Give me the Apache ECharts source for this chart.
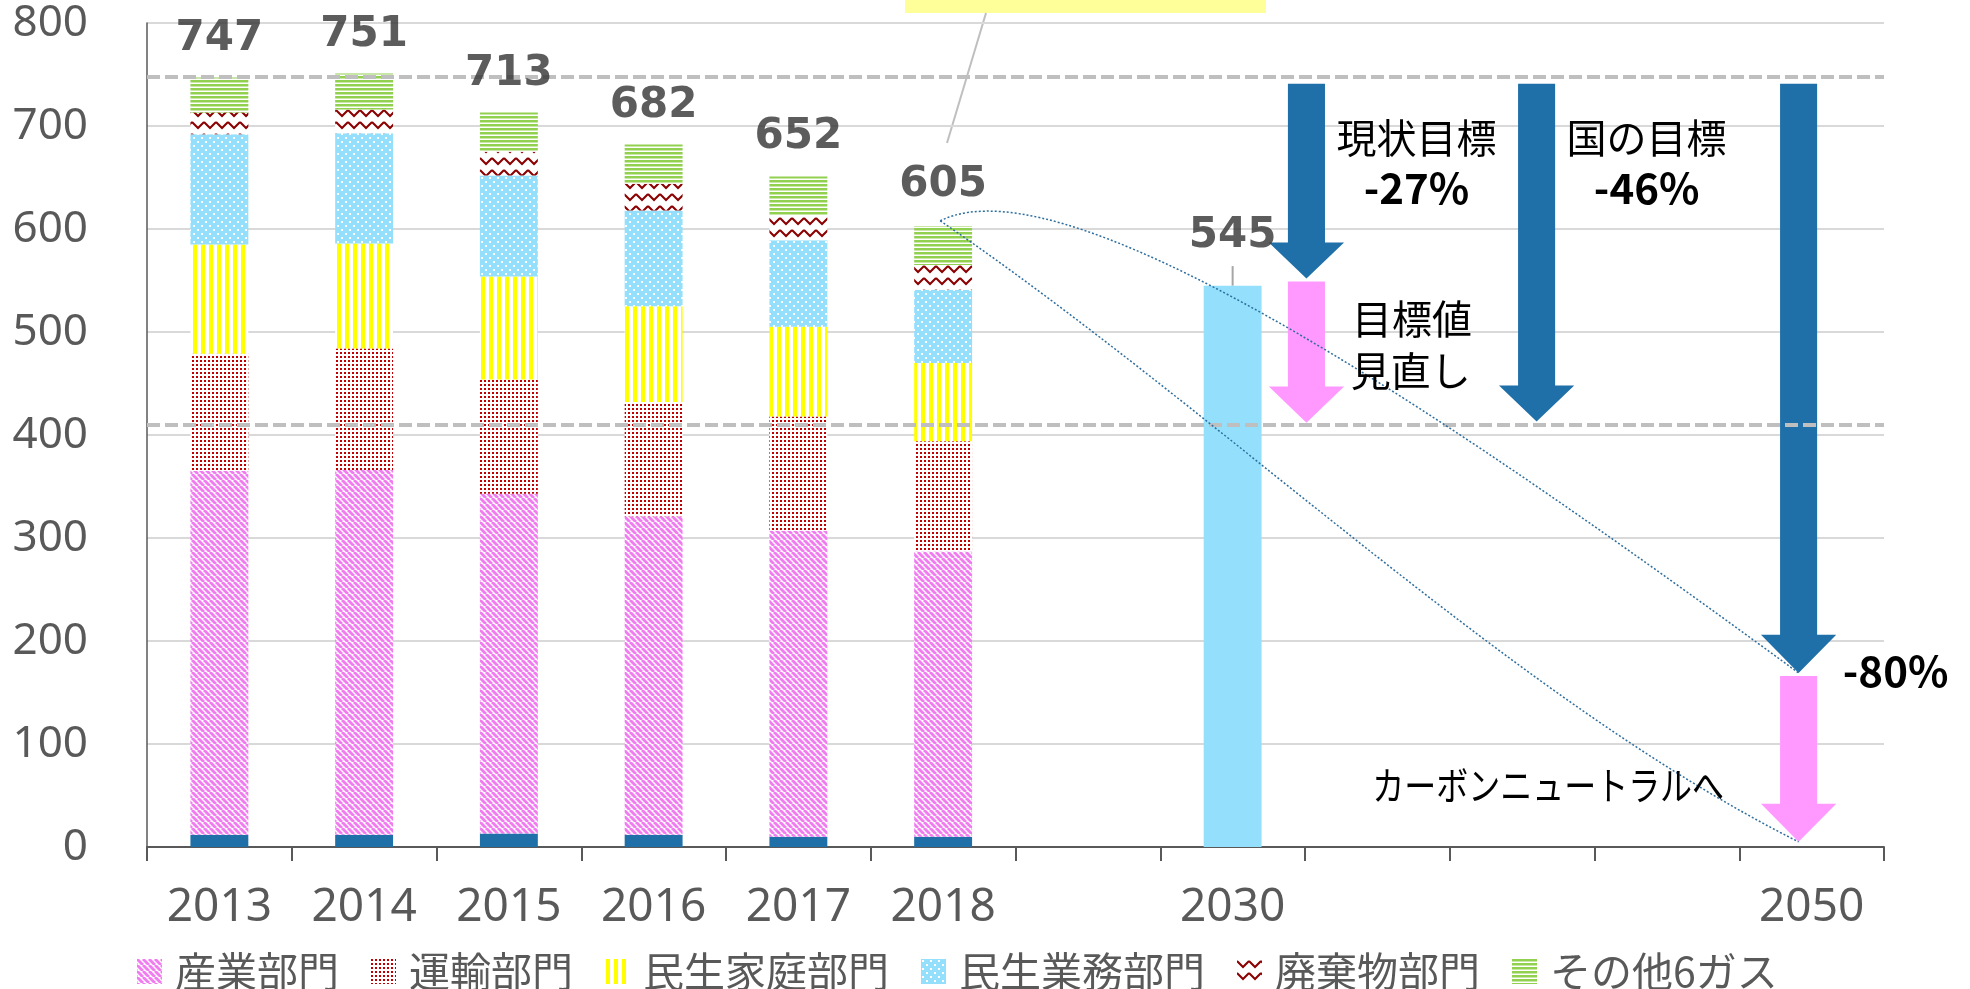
<!DOCTYPE html>
<html>
<head>
<meta charset="utf-8">
<title>温室効果ガス排出量の推移</title>
<script src="https://cdn.jsdelivr.net/npm/echarts@6/dist/echarts.min.js"></script>
<style>
  html, body { margin: 0; padding: 0; background: #fff; }
  #chart { width: 1970px; height: 989px; }
</style>
</head>
<body>
<div id="chart"></div>
<script>
// categories (blank slots keep the time spacing between 2018, 2030 and 2050)
const years = ['2013', '2014', '2015', '2016', '2017', '2018', ' ', '2030', '  ', '   ', '    ', '2050'];

// stacked sectors, 2013-2018, bottom to top
const energy    = [12, 12, 13, 12, 10, 10];
const industry  = [353, 354, 330, 309, 297, 277];
const transport = [114, 118, 111, 111, 111, 107];
const household = [106, 102, 100, 93, 87, 76];
const business  = [107, 107, 98, 93, 84, 71];
const waste     = [21, 23, 23, 26, 24, 24];
const otherGas  = [34, 35, 38, 38, 38, 38];

// 2030 target bar and the printed totals
const target2030 = [null, null, null, null, null, null, null, 545];
const totals = [747, 751, 713, 682, 652, 605, null, 545];

// reference levels (dashed)
const refLevels = [748, 410];

// arrows: x position in category units, start value, head start, tip value
const arrowX    = [7.51, 7.51, 9.10, 10.91, 10.91];
const arrowFrom = [741, 549, 741, 741, 166];
const arrowHead = [587, 447, 448, 206, 42];
const arrowTip  = [552, 412, 413, 169, 5];

// dotted trend curves (cubic bezier, data units)
const curveFrom = [[4.98, 608], [4.98, 608]];
const curveCp1  = [[5.9, 672], [6.95, 419]];
const curveCp2  = [[8.71, 395], [8.93, 145]];
const curveTo   = [[10.91, 169], [10.91, 5]];

// leader from the 2030 label to its bar
const leaderX = [7];
const leaderFrom = [545];
const leaderTo = [564];

// notes
const noteText = ['現状目標', '-27%', '国の目標', '-46%', '目標値', '見直し', '-80%', 'カーボンニュートラルへ'];
const noteX    = [8.27, 8.27, 9.86, 9.86, 8.24, 8.23, 11.58, 9.18];
const noteV    = [689, 640, 689, 640, 513, 462, 171, 60];

const n = years.length;
const pad = arr => years.map((_, i) => (arr[i] == null ? '-' : arr[i]));

function pattern(w, h, draw) {
  const c = document.createElement('canvas');
  c.width = w;
  c.height = h;
  const ctx = c.getContext('2d');
  draw(ctx, w, h);
  return { image: c, repeat: 'repeat' };
}

const fills = {
  industry: pattern(6, 6, (ctx, w, h) => {
    ctx.fillStyle = '#fff';
    ctx.fillRect(0, 0, w, h);
    ctx.strokeStyle = '#F07CF0';
    ctx.lineWidth = 3;
    for (let x = -w; x <= w; x += w) {
      ctx.beginPath();
      ctx.moveTo(x, 0);
      ctx.lineTo(x + w, h);
      ctx.stroke();
    }
  }),
  transport: pattern(4, 4, (ctx, w, h) => {
    ctx.fillStyle = '#fff';
    ctx.fillRect(0, 0, w, h);
    ctx.fillStyle = '#C00000';
    ctx.fillRect(0, 0, 2, 2);
  }),
  household: pattern(8, 8, (ctx, w, h) => {
    ctx.fillStyle = '#fff';
    ctx.fillRect(0, 0, w, h);
    ctx.fillStyle = '#FFFF00';
    ctx.fillRect(1, 0, 4, h);
  }),
  business: pattern(8, 8, (ctx, w, h) => {
    ctx.fillStyle = '#94E0FC';
    ctx.fillRect(0, 0, w, h);
    ctx.fillStyle = '#fff';
    ctx.fillRect(1, 1, 2, 2);
    ctx.fillRect(5, 5, 2, 2);
  }),
  waste: pattern(12, 12, (ctx, w, h) => {
    ctx.fillStyle = '#fff';
    ctx.fillRect(0, 0, w, h);
    ctx.strokeStyle = '#8B0000';
    ctx.lineWidth = 2;
    ctx.beginPath();
    ctx.moveTo(0, 2);
    ctx.lineTo(6, 8);
    ctx.lineTo(12, 2);
    ctx.stroke();
  }),
  otherGas: pattern(4, 4, (ctx, w, h) => {
    ctx.fillStyle = '#fff';
    ctx.fillRect(0, 0, w, h);
    ctx.fillStyle = '#92D050';
    ctx.fillRect(0, 0, w, 2);
    ctx.fillStyle = '#C9E7A7';
    ctx.fillRect(0, 2, w, 1);
  })
};

const sectors = [
  { name: 'エネルギー転換部門', data: energy, color: '#1F6FA8' },
  { name: '産業部門', data: industry, color: fills.industry },
  { name: '運輸部門', data: transport, color: fills.transport },
  { name: '民生家庭部門', data: household, color: fills.household },
  { name: '民生業務部門', data: business, color: fills.business },
  { name: '廃棄物部門', data: waste, color: fills.waste },
  { name: 'その他6ガス', data: otherGas, color: fills.otherGas },
  { name: '2030年目標', data: target2030, color: '#94E0FC' }
];

const barSeries = sectors.map(s => ({
  name: s.name,
  type: 'bar',
  stack: 'total',
  barWidth: '40%',
  data: pad(s.data),
  itemStyle: { color: s.color },
  emphasis: { disabled: true }
}));

const shaftHalf = 0.128;
const headHalf = 0.26;
const arrowColor = ['#1F6FA8', '#FF99FF', '#1F6FA8', '#1F6FA8', '#FF99FF'];

const myChart = echarts.init(document.getElementById('chart'));
myChart.setOption({
  animation: false,
  backgroundColor: '#fff',
  grid: {
    left: 147,
    right: 86,
    top: 23,
    bottom: 142,
    containLabel: false,
    outerBoundsMode: 'none'
  },
  legend: {
    data: ['産業部門', '運輸部門', '民生家庭部門', '民生業務部門', '廃棄物部門', 'その他6ガス'],
    left: 132,
    top: 946,
    icon: 'rect',
    itemWidth: 25,
    itemHeight: 25,
    itemGap: 32,
    selectedMode: false,
    textStyle: {
      fontSize: 41,
      color: '#595959',
      fontFamily: 'Noto Sans CJK JP',
      padding: [0, 0, 0, 8]
    }
  },
  xAxis: [
    {
      type: 'category',
      data: years,
      boundaryGap: true,
      axisLine: { onZero: false, lineStyle: { color: '#595959', width: 2 } },
      axisTick: { show: true, interval: 0, length: 14, lineStyle: { color: '#595959', width: 2 } },
      axisLabel: {
        interval: 0,
        margin: 38,
        fontSize: 46,
        color: '#595959',
        fontFamily: 'Noto Sans'
      },
      splitLine: { show: false }
    },
    {
      // same band as the category axis, for annotations placed between categories
      type: 'value',
      min: -0.5,
      max: n - 0.5,
      show: false
    }
  ],
  yAxis: {
    type: 'value',
    min: 0,
    max: 800,
    interval: 100,
    axisLine: { show: true, onZero: false, lineStyle: { color: '#595959', width: 1.5 } },
    axisTick: { show: false },
    axisLabel: {
      margin: 59,
      fontSize: 44,
      color: '#595959',
      fontFamily: 'Noto Sans'
    },
    splitLine: { lineStyle: { color: '#D9D9D9', width: 2 } }
  },
  graphic: [
    { type: 'rect', shape: { x: 905, y: 0, width: 361, height: 13 }, style: { fill: '#FFFF99' } },
    { type: 'line', shape: { x1: 986, y1: 13, x2: 947, y2: 143 }, style: { stroke: '#BFBFBF', lineWidth: 2 } }
  ],
  series: [
    ...barSeries,
    {
      name: 'arrows',
      type: 'custom',
      xAxisIndex: 1,
      yAxisIndex: 0,
      z: 3,
      silent: true,
      data: arrowX.map((x, i) => [x, arrowTip[i]]),
      renderItem(params, api) {
        const i = params.dataIndex;
        const x = arrowX[i];
        const pts = [
          [x - shaftHalf, arrowFrom[i]],
          [x + shaftHalf, arrowFrom[i]],
          [x + shaftHalf, arrowHead[i]],
          [x + headHalf, arrowHead[i]],
          [x, arrowTip[i]],
          [x - headHalf, arrowHead[i]],
          [x - shaftHalf, arrowHead[i]]
        ].map(p => api.coord(p));
        return { type: 'polygon', shape: { points: pts }, style: { fill: arrowColor[i] } };
      }
    },
    {
      name: 'curves',
      type: 'custom',
      xAxisIndex: 1,
      yAxisIndex: 0,
      z: 6,
      silent: true,
      data: curveTo.map(p => p.slice()),
      renderItem(params, api) {
        const i = params.dataIndex;
        const a = api.coord(curveFrom[i]);
        const c1 = api.coord(curveCp1[i]);
        const c2 = api.coord(curveCp2[i]);
        const b = api.coord(curveTo[i]);
        return {
          type: 'bezierCurve',
          shape: { x1: a[0], y1: a[1], cpx1: c1[0], cpy1: c1[1], cpx2: c2[0], cpy2: c2[1], x2: b[0], y2: b[1] },
          style: { stroke: '#2E6E9E', lineWidth: 1.5, lineDash: [2, 2], fill: null }
        };
      }
    },
    {
      name: 'leader',
      type: 'custom',
      xAxisIndex: 1,
      yAxisIndex: 0,
      z: 6,
      silent: true,
      data: leaderX.map((x, i) => [x, leaderTo[i]]),
      renderItem(params, api) {
        const i = params.dataIndex;
        const a = api.coord([leaderX[i], leaderFrom[i]]);
        const b = api.coord([leaderX[i], leaderTo[i]]);
        return { type: 'line', shape: { x1: a[0], y1: a[1], x2: b[0], y2: b[1] }, style: { stroke: '#A6A6A6', lineWidth: 2 } };
      }
    },
    {
      name: 'notes',
      type: 'custom',
      xAxisIndex: 1,
      yAxisIndex: 0,
      z: 6,
      silent: true,
      data: noteX.map((x, i) => [x, noteV[i]]),
      renderItem(params, api) {
        const i = params.dataIndex;
        const p = api.coord([noteX[i], noteV[i]]);
        const bold = noteText[i].indexOf('%') >= 0;
        const long = noteText[i].length > 6;
        return {
          type: 'text',
          x: p[0],
          y: p[1],
          scaleX: long ? 0.82 : 1,
          style: {
            text: noteText[i],
            x: 0,
            y: 0,
            align: 'center',
            verticalAlign: 'middle',
            fontSize: long ? 39 : (bold ? 42 : 40),
            fontWeight: bold ? 'bold' : 'normal',
            fontFamily: 'Noto Sans CJK JP',
            fill: '#000'
          }
        };
      }
    },
    {
      name: 'totals',
      type: 'scatter',
      xAxisIndex: 0,
      yAxisIndex: 0,
      z: 10,
      silent: true,
      symbolSize: 1,
      itemStyle: { color: 'rgba(0,0,0,0)' },
      data: years.map((_, i) => (totals[i] == null ? '-' : {
        value: totals[i],
        label: { distance: i === 7 ? 28 : 17 }
      })),
      label: {
        show: true,
        position: 'top',
        formatter: '{c}',
        fontSize: 42,
        fontWeight: 'bold',
        fontFamily: 'DejaVu Sans',
        color: '#333333'
      },
      markLine: {
        silent: true,
        symbol: ['none', 'none'],
        label: { show: false },
        lineStyle: { type: [13, 5], color: '#BFBFBF', width: 4 },
        data: refLevels.map(v => ({ yAxis: v }))
      }
    }
  ]
});
</script>
</body>
</html>
